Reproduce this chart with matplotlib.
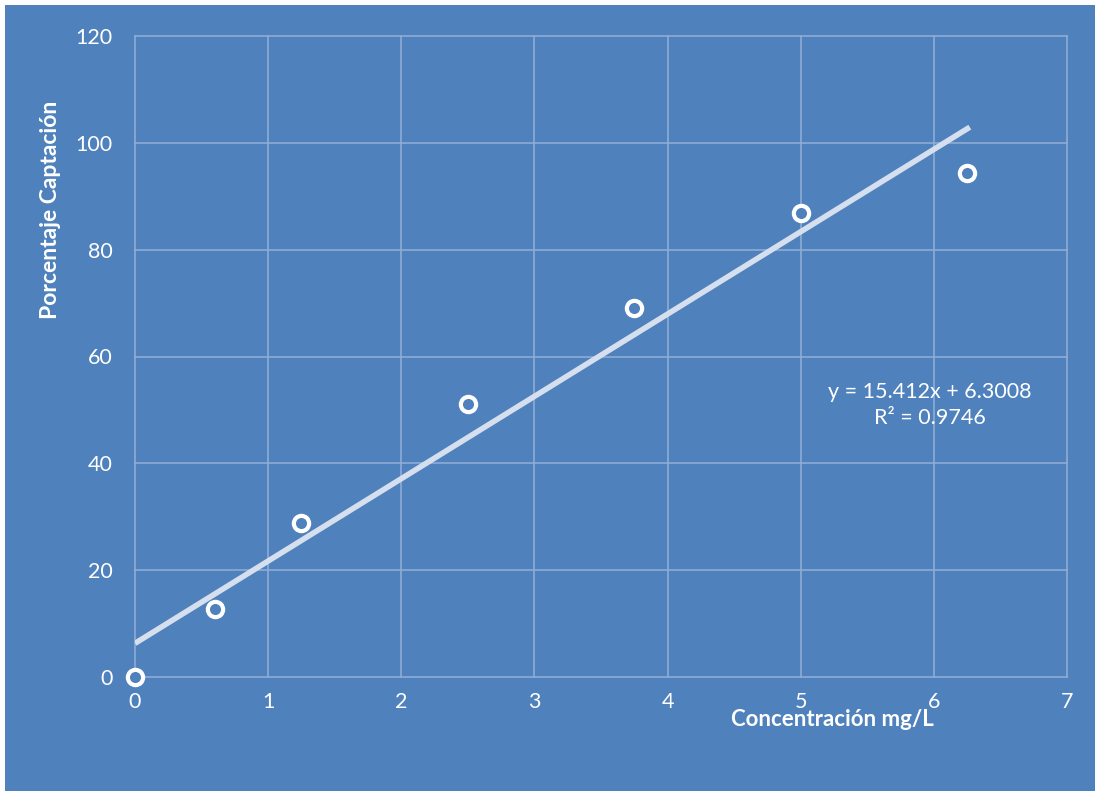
import numpy as np
import matplotlib.pyplot as plt
import matplotlib.patches as patches

# datos
concentracion = [0, 0.6, 1.25, 2.5, 3.75, 5.0, 6.25]
captacion = [0, 12.7, 28.8, 51.1, 69.1, 86.9, 94.3]
pendiente = 15.412
intercepto = 6.3008
r2 = 0.9746

xticks = [0, 1, 2, 3, 4, 5, 6, 7]
yticks = [0, 20, 40, 60, 80, 100, 120]

azul = '#4F81BD'
plt.rcParams['font.family'] = ['Lato', 'DejaVu Sans']

fig = plt.figure(figsize=(10.95, 7.91), dpi=100, facecolor='white')
# fondo azul con un borde blanco arriba / izquierda
fig.patches.append(patches.Rectangle((5 / 1095, 0), 1 - 5 / 1095, 1 - 5 / 791,
                                     transform=fig.transFigure, facecolor=azul,
                                     edgecolor='none', zorder=-10))

ax = fig.add_axes([135 / 1095, 114 / 791, 932 / 1095, 641 / 791])
ax.set_facecolor(azul)
ax.set_xlim(0, 7)
ax.set_ylim(0, 120)
ax.set_xticks(xticks)
ax.set_yticks(yticks)
for s in ax.spines.values():
    s.set_visible(False)
ax.grid(True, color='#93AED6', linewidth=1.1)
for gl in ax.get_xgridlines() + ax.get_ygridlines():
    gl.set_clip_on(False)
ax.set_axisbelow(True)
ax.tick_params(length=0, labelcolor='white', labelsize=15.5)
ax.tick_params(axis='x', pad=11)
ax.tick_params(axis='y', pad=16)

# linea de tendencia
xl = np.array([0, 6.27])
ax.plot(xl, pendiente * xl + intercepto, color='#D5DFEE', linewidth=4, solid_capstyle='butt', zorder=2)

ax.plot(concentracion, captacion, linestyle='none', marker='o', markersize=11,
        markerfacecolor=azul, markeredgecolor='white', markeredgewidth=3, zorder=3, clip_on=False)

ax.text(5.97, 50.9, f'y = {pendiente}x + {intercepto}\nR² = {r2}', color='white', fontsize=15.5,
        ha='center', va='center', linespacing=1.35)

ax.set_xlabel('Concentración mg/L', color='white', fontsize=16, fontweight='bold', va='center')
ax.xaxis.set_label_coords(0.748, -0.066)
ax.set_ylabel('Porcentaje Captación', color='white', fontsize=16.5, fontweight='bold', va='center')
ax.yaxis.set_label_coords(-0.091, 0.729)

fig.savefig('out.png', dpi=100, facecolor=fig.get_facecolor())
